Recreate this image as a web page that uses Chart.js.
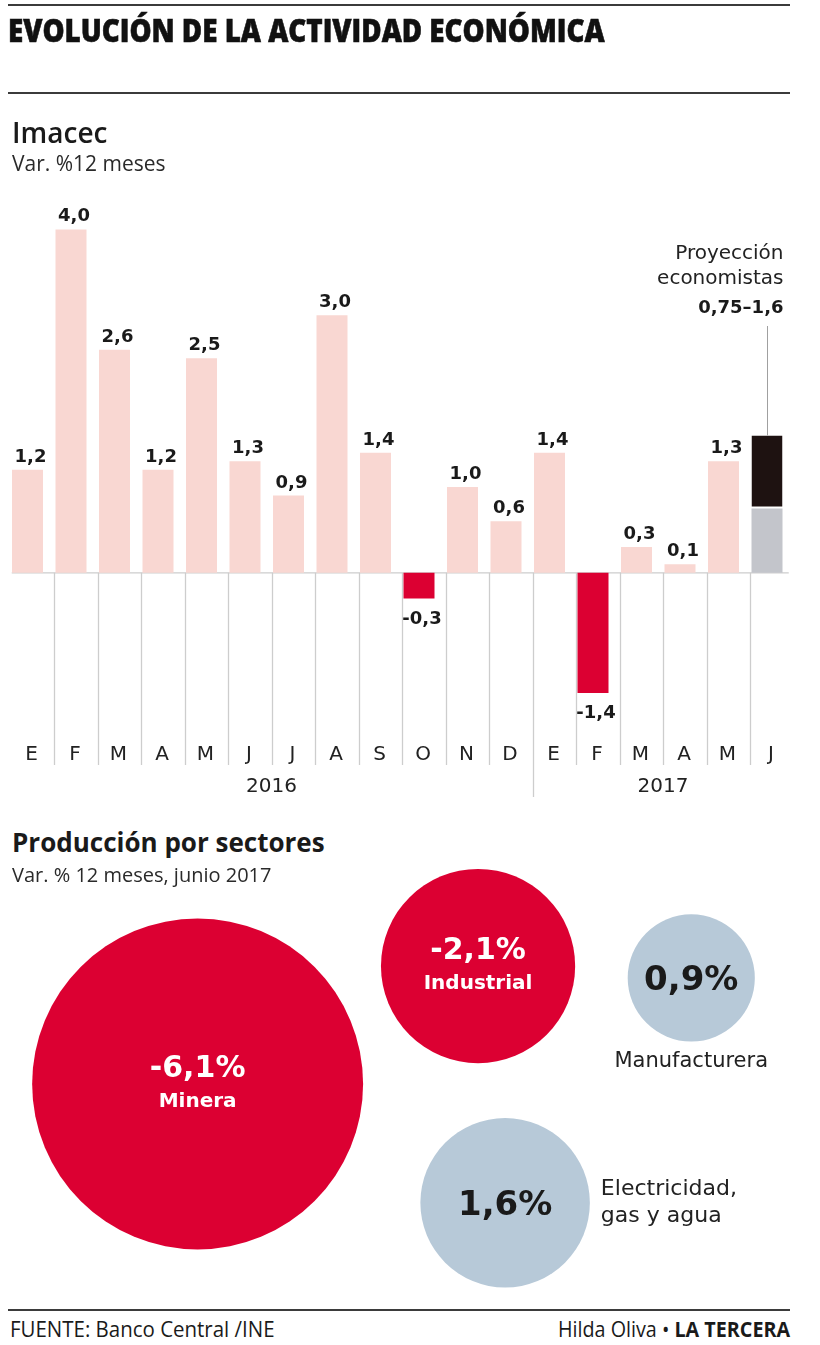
<!DOCTYPE html>
<html lang="es">
<head>
<meta charset="utf-8">
<title>Evolución de la actividad económica</title>
<script src="https://cdn.jsdelivr.net/npm/chart.js@4.4.1/dist/chart.umd.min.js"></script>
<style>
  html, body { margin: 0; padding: 0; background: #fff; }
  body { width: 820px; height: 1345px; position: relative; overflow: hidden; }
  canvas { position: absolute; left: 0; }
  .rule { position: absolute; left: 8px; width: 782px; height: 2px; background: #3b3b3b; }
  .t { position: absolute; white-space: nowrap; line-height: 1; color: #1a1a1a; transform-origin: 0 0; }
</style>
</head>
<body>
<canvas id="bars" width="820" height="820" style="top:0"></canvas>
<canvas id="bubbles" width="820" height="440" style="top:860px"></canvas>

<div class="rule" style="top:4px"></div>
<div class="rule" style="top:92px"></div>
<div class="rule" style="top:1309px"></div>

<div class="t" data-base="42" data-left="8" data-w="597" style="font:800 31px 'Open Sans';color:#111;-webkit-text-stroke:0.6px #111">EVOLUCIÓN DE LA ACTIVIDAD ECONÓMICA</div>
<div class="t" data-base="143" data-left="12" style="font:600 28px 'Open Sans'">Imacec</div>
<div class="t" data-base="171" data-left="12" style="font:400 21px 'Open Sans';color:#2a2a2a">Var. %12 meses</div>
<div class="t" data-base="852" data-left="12" style="font:700 26px 'Open Sans'">Producción por sectores</div>
<div class="t" data-base="882" data-left="12" style="font:400 20px 'Open Sans';color:#2a2a2a">Var. % 12 meses, junio 2017</div>
<div class="t" data-base="1337" data-left="10" data-w="265" style="font:400 21px 'Open Sans'">FUENTE: Banco Central /INE</div>
<div class="t" data-base="1337" data-right="790" data-w="232" style="font:400 21px 'Open Sans'">Hilda Oliva • <b style="font-weight:700">LA TERCERA</b></div>

<script>
// ---------------- DATA ----------------
const months = ['E','F','M','A','M','J','J','A','S','O','N','D','E','F','M','A','M','J'];
const yearGroups = ['2016', '2017'];
const yearStart = [0, 12];
const yearEnd = [11, 17];
const imacec = [1.2, 4.0, 2.6, 1.2, 2.5, 1.3, 0.9, 3.0, 1.4, -0.3, 1.0, 0.6, 1.4, -1.4, 0.3, 0.1, 1.3, null];
const projectionIndex = 17;
const projectionRange = [0.75, 1.6];

const sectors = ['Minera', 'Industrial', 'Manufacturera', 'Electricidad,\ngas y agua'];
const sectorValues = [-6.1, -2.1, 0.9, 1.6];

// ---------------- LAYOUT / STYLE ----------------
const PINK = '#f9d7d2', RED = '#dc0032', BLACK = '#1e1211', GREY = '#c3c5cb', BLUE = '#b7c9d8';
const TEXT = '#1a1a1a';
const SEP_SHIFT = 4.75;          // separators sit a little right of the category midpoint
const BUBBLE_K = 67;             // px of radius per sqrt(|value|)
const bubbleX = [24.1, 58.3, 84.3, 61.6];   // placement in the 0..100 layout grid
const bubbleY = [49.1, 75.9, 73.2, 22.1];
const labelPlacement = ['inside', 'inside', 'below', 'right'];

const fmt = (v, d = 1) => v.toFixed(d).replace('.', ',');
const fmtTrim = v => String(v).replace('.', ',');

// ---------------- HTML text placement by baseline ----------------
document.querySelectorAll('.t').forEach(el => {
  const m = document.createElement('span');
  m.style.cssText = 'display:inline-block;width:0;height:0;vertical-align:baseline';
  el.appendChild(m);
  const off = m.offsetTop;
  el.style.top = (parseFloat(el.dataset.base) - off) + 'px';
  let w = el.offsetWidth;
  if (el.dataset.w) {
    const s = parseFloat(el.dataset.w) / w;
    el.style.transform = 'scaleX(' + s + ')';
    w = w * s;
  }
  if (el.dataset.left) el.style.left = el.dataset.left + 'px';
  if (el.dataset.right) el.style.left = (parseFloat(el.dataset.right) - w) + 'px';
});

// ---------------- BAR CHART ----------------
const barDecor = {
  id: 'barDecor',
  beforeDatasetsDraw(chart) {
    const { ctx, scales: { x, y } } = chart;
    const y0 = y.getPixelForValue(0);
    ctx.save();
    ctx.strokeStyle = '#cdcdcd';
    ctx.lineWidth = 1.3;
    ctx.beginPath();
    ctx.moveTo(x.left + 6, y0);
    ctx.lineTo(x.right, y0);
    ctx.stroke();
    for (let i = 0; i < months.length - 1; i++) {
      const sx = Math.round((x.getPixelForValue(i) + x.getPixelForValue(i + 1)) / 2 + SEP_SHIFT) + 0.5;
      const yearBreak = yearEnd.includes(i);
      ctx.beginPath();
      ctx.moveTo(sx, y0);
      ctx.lineTo(sx, yearBreak ? 797 : 765);
      ctx.stroke();
    }
    ctx.restore();
  },
  afterDatasetsDraw(chart) {
    const { ctx, scales: { x } } = chart;
    ctx.save();
    // value labels
    ctx.font = "bold 18px 'DejaVu Sans'";
    ctx.fillStyle = TEXT;
    ctx.textAlign = 'center';
    ctx.textBaseline = 'alphabetic';
    chart.getDatasetMeta(0).data.forEach((bar, i) => {
      const v = imacec[i];
      if (v === null || v === undefined) return;
      ctx.fillText(fmt(v), bar.x + 3, v >= 0 ? bar.y - 8 : bar.y + 25);
    });
    // projection annotation
    const pb = chart.getDatasetMeta(2).data[projectionIndex];
    ctx.strokeStyle = '#a0a0a0';
    ctx.lineWidth = 1;
    ctx.beginPath();
    ctx.moveTo(Math.round(pb.x) + 0.5, pb.y);
    ctx.lineTo(Math.round(pb.x) + 0.5, 326);
    ctx.stroke();
    const right = pb.x + pb.width / 2 + 1;
    ctx.textAlign = 'right';
    ctx.font = "20px 'DejaVu Sans'";
    ctx.fillStyle = '#222';
    ctx.fillText('Proyección', right, 259);
    ctx.fillText('economistas', right, 284);
    ctx.font = "bold 18px 'DejaVu Sans'";
    ctx.fillStyle = TEXT;
    ctx.fillText(fmtTrim(projectionRange[0]) + '–' + fmtTrim(projectionRange[1]), right, 313);
    // year labels
    ctx.textAlign = 'center';
    ctx.font = "20px 'DejaVu Sans'";
    ctx.fillStyle = '#222';
    yearGroups.forEach((yr, g) => {
      const cx = (x.getPixelForValue(yearStart[g]) + x.getPixelForValue(yearEnd[g])) / 2 + SEP_SHIFT;
      ctx.fillText(yr, cx, 792);
    });
    ctx.restore();
  }
};

const common = { barPercentage: 1, categoryPercentage: 31 / 43.5, grouped: false, borderWidth: 0 };

new Chart(document.getElementById('bars'), {
  type: 'bar',
  data: {
    labels: months,
    datasets: [
      Object.assign({
        data: imacec,
        backgroundColor: c => (c.raw !== null && c.raw < 0 ? RED : PINK)
      }, common),
      Object.assign({
        data: months.map((_, i) => i === projectionIndex ? [0, projectionRange[0]] : null),
        backgroundColor: GREY
      }, common),
      Object.assign({}, common, {
        data: months.map((_, i) => i === projectionIndex ? [projectionRange[0], projectionRange[1]] : null),
        backgroundColor: BLACK,
        borderColor: '#ffffff',
        borderWidth: { top: 0, left: 0, right: 0, bottom: 2 },
        borderSkipped: false
      })
    ]
  },
  options: {
    responsive: false,
    animation: false,
    devicePixelRatio: 1,
    events: [],
    layout: { autoPadding: false, padding: { left: 5.75, right: 31.25, top: 190, bottom: 0 } },
    plugins: { legend: { display: false }, tooltip: { enabled: false } },
    scales: {
      x: {
        grid: { display: false, drawTicks: false },
        border: { display: false },
        ticks: {
          color: '#222',
          font: { family: 'DejaVu Sans', size: 20 },
          padding: 8,
          labelOffset: 4,
          autoSkip: false,
          maxRotation: 0
        },
        afterFit: s => { s.height = 85; }
      },
      y: { display: false, min: -1.89, max: 4.46 }
    }
  },
  plugins: [barDecor]
});

// ---------------- BUBBLE CHART ----------------
const bubbleLabels = {
  id: 'bubbleLabels',
  afterDatasetsDraw(chart) {
    const { ctx } = chart;
    ctx.save();
    ctx.textBaseline = 'alphabetic';
    chart.getDatasetMeta(0).data.forEach((el, i) => {
      const cx = el.x, cy = el.y, r = el.options.radius;
      const valTxt = fmt(sectorValues[i]) + '%';
      const place = labelPlacement[i];
      if (place === 'inside') {
        ctx.fillStyle = '#fff';
        ctx.textAlign = 'center';
        ctx.font = "bold 30px 'DejaVu Sans'";
        ctx.fillText(valTxt, cx, cy - 7);
        ctx.font = "bold 20px 'DejaVu Sans'";
        ctx.fillText(sectors[i], cx, cy + 23);
      } else {
        ctx.fillStyle = TEXT;
        ctx.textAlign = 'center';
        ctx.font = "bold 34px 'DejaVu Sans'";
        ctx.fillText(valTxt, cx, cy + 12);
        ctx.fillStyle = '#222';
        if (place === 'below') {
          ctx.font = "21px 'DejaVu Sans'";
          ctx.fillText(sectors[i], cx, cy + r + 26);
        } else {
          ctx.font = "22px 'DejaVu Sans'";
          ctx.textAlign = 'left';
          sectors[i].split('\n').forEach((ln, k) => {
            ctx.fillText(ln, cx + r + 11, cy - 8 + k * 27);
          });
        }
      }
    });
    ctx.restore();
  }
};

new Chart(document.getElementById('bubbles'), {
  type: 'bubble',
  data: {
    datasets: [{
      data: sectorValues.map((v, i) => ({ x: bubbleX[i], y: bubbleY[i], r: BUBBLE_K * Math.sqrt(Math.abs(v)) })),
      backgroundColor: sectorValues.map(v => v < 0 ? RED : BLUE),
      borderWidth: 0,
      hoverBorderWidth: 0,
      clip: false
    }]
  },
  options: {
    responsive: false,
    animation: false,
    devicePixelRatio: 1,
    events: [],
    layout: { autoPadding: false, padding: 0 },
    plugins: { legend: { display: false }, tooltip: { enabled: false } },
    scales: {
      x: { display: false, min: 0, max: 100 },
      y: { display: false, min: 0, max: 100 }
    }
  },
  plugins: [bubbleLabels]
});
</script>
</body>
</html>
